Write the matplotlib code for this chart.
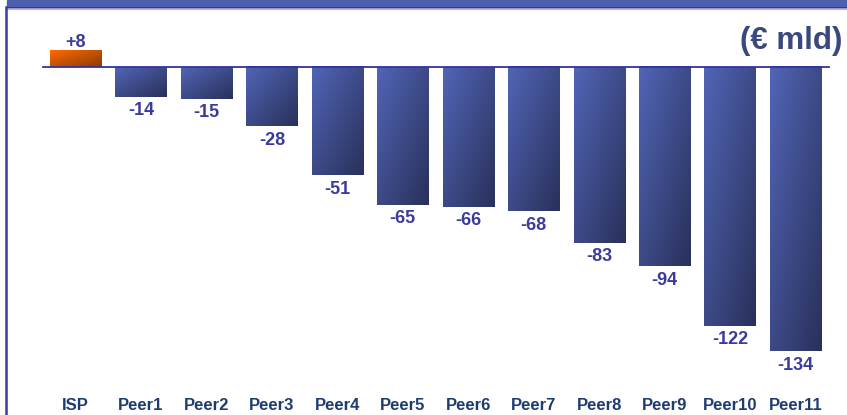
import numpy as np
import matplotlib
matplotlib.use("Agg")
import matplotlib.pyplot as plt
from matplotlib.patches import Rectangle
from matplotlib.lines import Line2D
from matplotlib.colors import LinearSegmentedColormap

categories = ["ISP", "Peer1", "Peer2", "Peer3", "Peer4", "Peer5", "Peer6",
              "Peer7", "Peer8", "Peer9", "Peer10", "Peer11"]
values = [8, -14, -15, -28, -51, -65, -66, -68, -83, -94, -122, -134]
value_labels = ["+8", "-14", "-15", "-28", "-51", "-65", "-66", "-68",
                "-83", "-94", "-122", "-134"]
unit_label = "(€ mld)"

W, H = 847, 415
plt.rcParams['font.family'] = ['Liberation Sans', 'DejaVu Sans']
fig = plt.figure(figsize=(W / 100, H / 100), dpi=100)
ax = fig.add_axes([0, 0, 1, 1])

# pixel mapping: baseline at y=67 px, 2.12 px per unit; bar i centred at 75.5 + 65.45*i
ppu = 2.12
y0 = 67
x0, dx = 75.5, 65.45
ax.axis('off')

x = np.arange(len(categories))
bars = ax.bar(x, values, width=0.78, color='none', edgecolor='none')

blue_cmap = LinearSegmentedColormap.from_list('b', ['#5165b6', '#29305a'])
orange_cmap = LinearSegmentedColormap.from_list('o', ['#ff6a00', '#8a3a00'])
gx, gy = np.meshgrid(np.linspace(0, 1, 60), np.linspace(0, 1, 60))
grad = (gx + gy) / 2.0  # top-left light -> bottom-right dark (origin upper)

for b, v in zip(bars, values):
    xl = b.get_x()
    xr = xl + b.get_width()
    yb = b.get_y()
    yt = yb + b.get_height()
    lo, hi = min(yb, yt), max(yb, yt)
    cmap = orange_cmap if v > 0 else blue_cmap
    ax.imshow(grad, cmap=cmap, extent=(xl, xr, lo, hi), origin='upper',
              aspect='auto', vmin=0, vmax=1, zorder=2, interpolation='bilinear')

ax.set_xlim(-x0 / dx, (W - x0) / dx)
ax.set_ylim((y0 - H) / ppu, y0 / ppu)

# baseline
ax.plot([(43 - x0) / dx, (829 - x0) / dx], [0, 0], color='#3333a0', lw=1.3, zorder=3)

# value labels
for xi, v, lab in zip(x, values, value_labels):
    yy = v + 7.5 / ppu if v > 0 else v - 14 / ppu
    ax.text(xi, yy, lab, ha='center', va='center',
            fontsize=13, fontweight='bold', color='#3b3b9e', zorder=4)

# category labels
ycat = (y0 - 406) / ppu
for xi, c in zip(x, categories):
    ax.text(xi, ycat, c, ha='center', va='center', fontsize=12,
            fontweight='bold', color='#1e3c72')

# unit label
fig.text(842 / W, 1 - 41 / H, unit_label, ha='right', va='center',
         fontsize=22.5, fontweight='bold', color='#3a4880')

# frame decorations (figure pixel coords)
def fx(p): return p / W
def fy(p): return 1 - p / H

fig.patches.append(Rectangle((fx(7), fy(7.5)), fx(W - 7), 7.5 / H,
                             transform=fig.transFigure, color='#4b5fae', zorder=0))
fig.lines.append(Line2D([fx(7), 1], [fy(8), fy(8)], transform=fig.transFigure,
                        color='#3030a0', lw=1.2))
fig.lines.append(Line2D([fx(7), 1], [fy(9.5), fy(9.5)], transform=fig.transFigure,
                        color='#a8a8dc', lw=1.2))
fig.lines.append(Line2D([fx(6.2), fx(6.2)], [fy(7.5), 0], transform=fig.transFigure,
                        color='#3a3aa8', lw=1.8))

fig.savefig('out.png', dpi=100)
